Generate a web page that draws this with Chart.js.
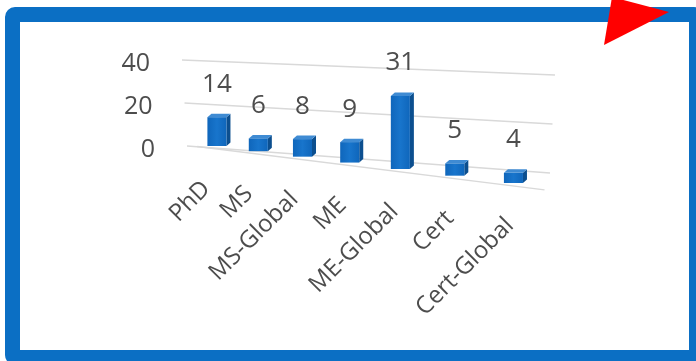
<!DOCTYPE html>
<html>
<head>
<meta charset="utf-8">
<script src="https://cdn.jsdelivr.net/npm/chart.js@4.4.1/dist/chart.umd.min.js"></script>
<style>
  html, body { margin: 0; padding: 0; background: #fff; overflow: hidden; }
  #wrap { position: relative; width: 696px; height: 361px; overflow: hidden; background: #fff; }
  #frame {
    position: absolute; left: 5px; top: 7px; width: 699px; height: 358px;
    box-sizing: border-box; border: 15px solid #0b6fc4; border-radius: 10px;
  }
  #chart { position: absolute; left: 0; top: 0; }
</style>
</head>
<body>
<div id="wrap">
  <div id="frame"></div>
  <canvas id="chart" width="696" height="361"></canvas>
</div>
<script>
// programas y cantidad de estudiantes
const categories = ['PhD', 'MS', 'MS-Global', 'ME', 'ME-Global', 'Cert', 'Cert-Global'];
const counts = [14, 6, 8, 9, 31, 5, 4];
const yMax = 40;
const yStep = 20;

// plano frontal de las barras (perspectiva horizontal)
const plane = { a: 229.1, b: 197.2, c: -0.2171, e: 2.765, f: 81, g: 143.54 };
// pared del fondo: extremos de la linea 0 y de la linea superior
const wall = { l0: [187, 146], l1: [182, 60], r0: [550, 173], r1: [555, 75] };
const depth = { dx: 4, dy: -3.5 };

const FONT = "'Open Sans', 'Noto Sans', sans-serif";
const TEXT = '#4d4d4d';
const GRID = '#d9d9d9';

function project(u, v) {
    const w = 1 + plane.c * u;
    return { x: (plane.a * u + plane.b) / w, y: (plane.e * u - plane.f * v + plane.g) / w };
}

function wallPoint(side, v) {
    const p0 = side === 'l' ? wall.l0 : wall.r0;
    const p1 = side === 'l' ? wall.l1 : wall.r1;
    return { x: p0[0] + (p1[0] - p0[0]) * v, y: p0[1] + (p1[1] - p0[1]) * v };
}

function toUV(area, px, py) {
    return {
        u: (px - area.left) / (area.right - area.left),
        v: (area.bottom - py) / (area.bottom - area.top)
    };
}

function poly(ctx, pts, fill) {
    ctx.beginPath();
    ctx.moveTo(pts[0].x, pts[0].y);
    pts.slice(1).forEach(p => ctx.lineTo(p.x, p.y));
    ctx.closePath();
    ctx.fillStyle = fill;
    ctx.fill();
}

// geometria en pantalla de cada barra a partir de los elementos de Chart.js
function barBoxes(chart) {
    const area = chart.chartArea;
    const k = (project(1, 0).x - project(0, 0).x) / (area.right - area.left);
    return chart.getDatasetMeta(0).data.map((el, i) => {
        const top = toUV(area, el.x, el.y);
        const bot = toUV(area, el.x, el.base);
        const pTop = project(top.u, top.v);
        const pBot = project(bot.u, bot.v);
        const half = el.width * k / 2;
        return { u: top.u, cx: pTop.x, xl: pTop.x - half, xr: pTop.x + half, top: pTop.y, base: pBot.y, index: i };
    });
}

const perspective3d = {
    id: 'perspective3d',
    beforeDatasetsDraw(chart) {
        const { ctx, chartArea: area, scales: { y } } = chart;
        ctx.save();
        ctx.strokeStyle = GRID;
        ctx.lineWidth = 1.5;
        y.ticks.forEach(t => {
            const v = toUV(area, area.left, y.getPixelForValue(t.value)).v;
            const a = wallPoint('l', v), b = wallPoint('r', v);
            ctx.beginPath();
            ctx.moveTo(a.x, a.y);
            ctx.lineTo(b.x, b.y);
            ctx.stroke();

            ctx.fillStyle = TEXT;
            ctx.font = '25px ' + FONT;
            ctx.textAlign = 'right';
            ctx.textBaseline = 'middle';
            ctx.fillText(String(t.value), a.x - 32, a.y + 4);
        });
        // borde delantero del piso
        const f0 = project(0, 0), f1 = project(1, 0);
        ctx.beginPath();
        ctx.moveTo(f0.x, f0.y + 3);
        ctx.lineTo(f1.x, f1.y + 3);
        ctx.stroke();
        ctx.restore();
    },
    beforeDatasetDraw(chart) {
        const { ctx } = chart;
        ctx.save();
        barBoxes(chart).forEach(b => {
            const { dx, dy } = depth;
            // cara lateral
            poly(ctx, [
                { x: b.xr, y: b.top }, { x: b.xr + dx, y: b.top + dy },
                { x: b.xr + dx, y: b.base + dy }, { x: b.xr, y: b.base }
            ], '#0c4f8f');
            // cara superior
            poly(ctx, [
                { x: b.xl, y: b.top }, { x: b.xl + dx, y: b.top + dy },
                { x: b.xr + dx, y: b.top + dy }, { x: b.xr, y: b.top }
            ], '#3f8bd3');
            // cara frontal
            const g = ctx.createLinearGradient(b.xl, 0, b.xr, 0);
            g.addColorStop(0, '#0f66bb');
            g.addColorStop(0.5, '#1875cc');
            g.addColorStop(1, '#0f66bb');
            poly(ctx, [
                { x: b.xl, y: b.top }, { x: b.xr, y: b.top },
                { x: b.xr, y: b.base }, { x: b.xl, y: b.base }
            ], g);
        });
        ctx.restore();
        return false;
    },
    afterDatasetsDraw(chart) {
        const { ctx } = chart;
        ctx.save();
        ctx.fillStyle = TEXT;
        barBoxes(chart).forEach(b => {
            // valor encima de la barra
            ctx.font = '26px ' + FONT;
            ctx.textAlign = 'center';
            ctx.textBaseline = 'middle';
            ctx.fillText(String(counts[b.index]), b.cx, b.top - 33);

            // etiqueta de categoria inclinada
            ctx.save();
            ctx.translate(b.cx - 11 + 8 * b.u, b.base + 39);
            ctx.rotate(-Math.PI / 4);
            ctx.font = '24px ' + FONT;
            ctx.textAlign = 'right';
            ctx.textBaseline = 'middle';
            ctx.fillText(categories[b.index], 0, 0);
            ctx.restore();
        });
        ctx.restore();
    },
    afterDraw(chart) {
        const { ctx } = chart;
        ctx.save();
        ctx.beginPath();
        ctx.moveTo(612, -3);
        ctx.lineTo(669, 12);
        ctx.lineTo(604, 45);
        ctx.closePath();
        ctx.fillStyle = '#ff0000';
        ctx.fill();
        ctx.restore();
    }
};

new Chart(document.getElementById('chart'), {
    type: 'bar',
    data: {
        labels: categories,
        datasets: [{
            data: counts,
            backgroundColor: '#1470c8',
            barPercentage: 0.48,
            categoryPercentage: 0.8
        }]
    },
    options: {
        responsive: false,
        animation: false,
        events: [],
        layout: { padding: { left: 180, right: 140, top: 60, bottom: 180 } },
        plugins: { legend: { display: false }, tooltip: { enabled: false } },
        scales: {
            x: { display: false },
            y: { display: false, min: 0, max: yMax, ticks: { stepSize: yStep } }
        }
    },
    plugins: [perspective3d]
});
</script>
</body>
</html>
